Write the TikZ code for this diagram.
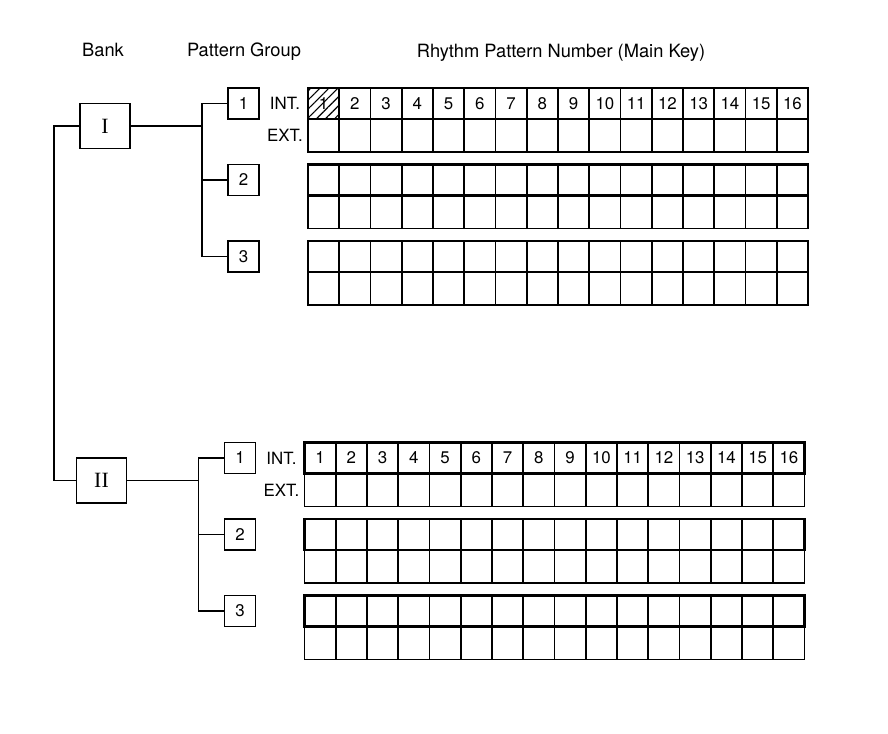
\documentclass[tikz,border=0pt]{standalone}
\usepackage{fontspec}
\setmainfont{TeX Gyre Heros}
\newfontfamily\romanfont{Liberation Serif}
\usetikzlibrary{patterns.meta}

\tikzset{
  bankbox/.style={draw, minimum width=1.25cm, minimum height=1.125cm, inner sep=0pt,
    font=\romanfont\fontsize{15.5}{17}\selectfont},
  grpbox/.style={draw, minimum width=0.78cm, minimum height=0.78cm, inner sep=0pt},
  toprow/.style={line width=2.1pt},
  hatched/.style={pattern={Lines[angle=45, distance=0.16cm, line width=0.8pt]}},
  heading/.style={font=\fontsize{13}{15}\selectfont},
}

\begin{document}
\begin{tikzpicture}[x=0.025cm, y=-0.025cm, line width=1.2pt, font=\fontsize{12}{14}\selectfont]
\useasboundingbox (0,0) rectangle (888,734);
\def\cw{31.25}
\def\rh{31}
\def\rl{33}

% headings
\node[heading] (hbank) at (103,50) {Bank};
\node[heading] (hgroup) at (244,52) {Pattern Group};
\node[heading] (hrhythm) at (561,53) {Rhythm Pattern Number (Main Key)};

% two banks, the second one shifted down
\foreach \bk/\lbl/\dx/\dy in {A/I/0/0, B/II/-3.5/354.5}{
\begin{scope}[shift={(\dx,\dy)}]
  \node[bankbox] (bank\bk) at (105,126) {\lbl};
  \coordinate (bus\bk) at (202,126);
  \foreach \g/\gy in {1/88, 2/164.5, 3/241}{
    \node[grpbox] (grp\bk\g) at (243.5,{\gy+\rh/2}) {\g};
    % grid of 16 keys, two rows
    \foreach \i in {0,...,15}{
      \draw ({308+\i*\cw},\gy) rectangle ++(\cw,\rh);
      \draw ({308+\i*\cw},{\gy+\rh}) rectangle ++(\cw,\rl);
    }
    \draw[toprow] (308,\gy) rectangle ++({16*\cw},\rh);
  }
  \draw (bank\bk.east) -- (bus\bk);
  \draw (grp\bk1.west) -- (bus\bk |- grp\bk1) -- (bus\bk |- grp\bk3) -- (grp\bk3.west);
  \draw (grp\bk2.west) -- (bus\bk |- grp\bk2);
  \node (int\bk) at (285,{88+\rh/2}) {INT.};
  \node (ext\bk) at (285,{88+\rh+\rl/2}) {EXT.};
\end{scope}
}

% hatched first key of bank I
\fill[hatched] (309,89) rectangle ++({\cw-2},{\rh-2});

% key numbers
\foreach \bk/\dx/\dy in {A/0/0, B/-3.5/354.5}{
  \foreach \i in {1,...,16}{
    \node (key\bk\i) at ({308+(\i-0.5)*\cw+\dx},{88+\rh/2+\dy}) {\i};
  }
}

% spine between the banks
\draw (bankA.west) -- ++(-25,0) |- (bankB.west);
\end{tikzpicture}
\end{document}
